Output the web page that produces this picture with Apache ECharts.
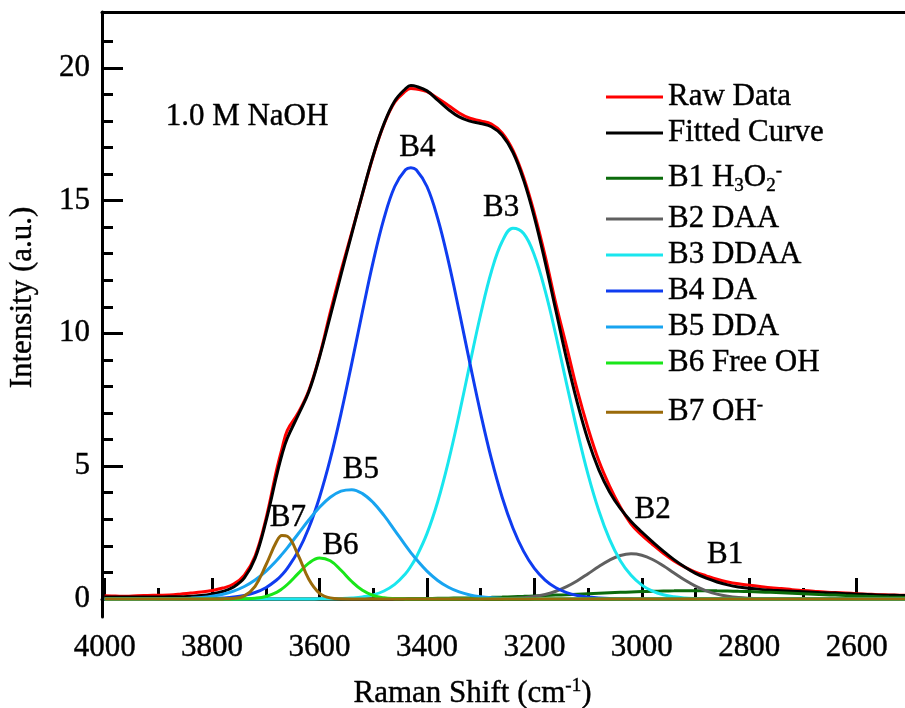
<!DOCTYPE html>
<html>
<head>
<meta charset="utf-8">
<script src="https://cdn.jsdelivr.net/npm/echarts@6/dist/echarts.min.js"></script>
<style>
  html, body { margin: 0; padding: 0; background: #fff; }
  #chart { width: 905px; height: 708px; }
</style>
</head>
<body>
<div id="chart"></div>
<script>
// Raman shift grid (cm-1), read every 20 cm-1 plus the two narrow peak tops
var shift = [
  4000, 3980, 3960, 3940, 3920, 3900, 3880, 3860, 3840, 3820,
  3800, 3780, 3760, 3740, 3720, 3700, 3680, 3670, 3660, 3640, 3620,
  3600, 3580, 3560, 3540, 3520, 3500, 3480, 3460, 3440, 3430, 3420,
  3400, 3380, 3360, 3340, 3320, 3300, 3280, 3260, 3240, 3220,
  3200, 3180, 3160, 3140, 3120, 3100, 3080, 3060, 3040, 3020,
  3000, 2980, 2960, 2940, 2920, 2900, 2880, 2860, 2840, 2820,
  2800, 2780, 2760, 2740, 2720, 2700, 2680, 2660, 2640, 2620,
  2600, 2580, 2560, 2540, 2520, 2500
];

var rawData = [
  0.12, 0.11, 0.10, 0.12, 0.13, 0.14, 0.15, 0.18, 0.22, 0.26,
  0.32, 0.41, 0.56, 0.90, 1.62, 3.00, 4.85, 5.65, 6.35, 7.00, 7.85,
  9.15, 10.80, 12.35, 13.80, 15.25, 16.68, 17.87, 18.70, 19.12, 19.22, 19.20,
  19.10, 18.85, 18.58, 18.30, 18.10, 18.00, 17.88, 17.55, 16.90, 15.88,
  14.52, 12.92, 11.12, 9.50, 7.85, 6.42, 5.20, 4.25, 3.46, 2.82,
  2.40, 2.05, 1.72, 1.43, 1.20, 1.01, 0.87, 0.74, 0.64, 0.57,
  0.52, 0.47, 0.42, 0.39, 0.35, 0.32, 0.29, 0.26, 0.24, 0.22,
  0.20, 0.18, 0.16, 0.15, 0.14, 0.13
];

var fitted = [
  0.07, 0.07, 0.07, 0.07, 0.07, 0.07, 0.08, 0.08, 0.10, 0.13,
  0.19, 0.28, 0.45, 0.79, 1.53, 2.90, 4.64, 5.43, 6.05, 6.91, 7.80,
  9.11, 10.65, 12.21, 13.75, 15.27, 16.70, 17.89, 18.75, 19.21, 19.33, 19.30,
  19.13, 18.78, 18.43, 18.15, 17.99, 17.90, 17.78, 17.46, 16.82, 15.77,
  14.37, 12.69, 10.86, 9.03, 7.38, 5.97, 4.86, 4.03, 3.41, 2.92,
  2.52, 2.15, 1.80, 1.48, 1.20, 0.96, 0.78, 0.64, 0.53, 0.45,
  0.40, 0.36, 0.33, 0.31, 0.29, 0.27, 0.25, 0.23, 0.22, 0.20,
  0.18, 0.17, 0.15, 0.14, 0.13, 0.12
];

var b1 = [
  0, 0, 0, 0, 0, 0, 0, 0, 0, 0,
  0, 0, 0, 0, 0, 0, 0, 0, 0, 0, 0,
  0.001, 0.002, 0.002, 0.003, 0.004, 0.005, 0.007, 0.009, 0.011, 0.013, 0.014,
  0.018, 0.023, 0.028, 0.035, 0.042, 0.051, 0.060, 0.071, 0.084, 0.097,
  0.112, 0.127, 0.144, 0.161, 0.179, 0.197, 0.215, 0.232, 0.248, 0.263,
  0.277, 0.288, 0.298, 0.304, 0.309, 0.310, 0.309, 0.304, 0.298, 0.288,
  0.277, 0.263, 0.248, 0.232, 0.215, 0.197, 0.179, 0.161, 0.144, 0.127,
  0.112, 0.097, 0.084, 0.071, 0.060, 0.051
];

var b2 = [
  0, 0, 0, 0, 0, 0, 0, 0, 0, 0,
  0, 0, 0, 0, 0, 0, 0, 0, 0, 0, 0,
  0, 0, 0, 0, 0, 0, 0, 0, 0, 0, 0,
  0, 0, 0, 0, 0, 0.002, 0.004, 0.010, 0.022, 0.047,
  0.092, 0.170, 0.290, 0.463, 0.686, 0.949, 1.221, 1.464, 1.635, 1.700,
  1.646, 1.485, 1.248, 0.976, 0.711, 0.483, 0.305, 0.180, 0.099, 0.050,
  0.024, 0.011, 0.004, 0.002, 0, 0, 0, 0, 0, 0,
  0, 0, 0, 0, 0, 0
];

var b3 = [
  0, 0, 0, 0, 0, 0, 0, 0, 0, 0,
  0, 0, 0, 0, 0, 0, 0, 0, 0, 0, 0,
  0.003, 0.007, 0.016, 0.036, 0.076, 0.155, 0.299, 0.547, 0.951, 1.23, 1.570,
  2.46, 3.66, 5.18, 6.95, 8.86, 10.72, 12.33, 13.46, 13.96, 13.76,
  12.94, 11.61, 9.93, 8.10, 6.31, 4.68, 3.32, 2.24, 1.44, 0.888,
  0.521, 0.291, 0.155, 0.079, 0.038, 0.018, 0.008, 0.003, 0, 0,
  0, 0, 0, 0, 0, 0, 0, 0, 0, 0,
  0, 0, 0, 0, 0, 0
];

var b4 = [
  0, 0, 0, 0, 0, 0, 0, 0, 0.004, 0.008,
  0.017, 0.036, 0.070, 0.133, 0.242, 0.424, 0.713, 0.911, 1.153, 1.791, 2.67,
  3.83, 5.27, 6.98, 8.87, 10.83, 12.71, 14.33, 15.53, 16.16, 16.24, 16.16,
  15.53, 14.33, 12.71, 10.83, 8.87, 6.98, 5.27, 3.83, 2.67, 1.79,
  1.15, 0.71, 0.42, 0.24, 0.13, 0.07, 0.04, 0.02, 0.01, 0.004,
  0, 0, 0, 0, 0, 0, 0, 0, 0, 0,
  0, 0, 0, 0, 0, 0, 0, 0, 0, 0,
  0, 0, 0, 0, 0, 0
];

var b5 = [
  0, 0, 0, 0.001, 0.002, 0.003, 0.007, 0.014, 0.029, 0.055,
  0.101, 0.176, 0.294, 0.468, 0.714, 1.040, 1.447, 1.678, 1.924, 2.446, 2.971,
  3.450, 3.829, 4.061, 4.116, 3.966, 3.626, 3.144, 2.585, 2.016, 1.746, 1.492,
  1.047, 0.697, 0.440, 0.264, 0.150, 0.081, 0.041, 0.020, 0.009, 0.004,
  0.002, 0, 0, 0, 0, 0, 0, 0, 0, 0,
  0, 0, 0, 0, 0, 0, 0, 0, 0, 0,
  0, 0, 0, 0, 0, 0, 0, 0, 0, 0,
  0, 0, 0, 0, 0, 0
];

var b6 = [
  0, 0, 0, 0, 0, 0, 0, 0, 0, 0,
  0, 0, 0.001, 0.007, 0.028, 0.094, 0.251, 0.379, 0.543, 0.951, 1.348,
  1.546, 1.436, 1.080, 0.657, 0.324, 0.129, 0.042, 0.011, 0.002, 0.001, 0,
  0, 0, 0, 0, 0, 0, 0, 0, 0, 0,
  0, 0, 0, 0, 0, 0, 0, 0, 0, 0,
  0, 0, 0, 0, 0, 0, 0, 0, 0, 0,
  0, 0, 0, 0, 0, 0, 0, 0, 0, 0,
  0, 0, 0, 0, 0, 0
];

var b7 = [
  0, 0, 0, 0, 0, 0, 0, 0, 0, 0,
  0, 0.002, 0.018, 0.115, 0.477, 1.268, 2.161, 2.389, 2.362, 1.656, 0.744,
  0.214, 0.040, 0.005, 0, 0, 0, 0, 0, 0, 0, 0,
  0, 0, 0, 0, 0, 0, 0, 0, 0, 0,
  0, 0, 0, 0, 0, 0, 0, 0, 0, 0,
  0, 0, 0, 0, 0, 0, 0, 0, 0, 0,
  0, 0, 0, 0, 0, 0, 0, 0, 0, 0,
  0, 0, 0, 0, 0, 0
];

// tick labels
var xMajor = [4000, 3800, 3600, 3400, 3200, 3000, 2800, 2600];
var xMinor = [3900, 3700, 3500, 3300, 3100, 2900, 2700];
var yMajor = [0, 5, 10, 15, 20];
var yMinor = [1, 2, 3, 4, 6, 7, 8, 9, 11, 12, 13, 14, 16, 17, 18, 19, 21];

// in-plot annotations (data coordinates of text centre)
var noteText = ['1.0 M NaOH', 'B4', 'B3', 'B5', 'B7', 'B6', 'B2', 'B1'];
var noteShift = [3735, 3418, 3262, 3523, 3659, 3561, 2980, 2845];
var noteInt = [18.16, 17.0, 14.72, 4.85, 3.06, 1.99, 3.36, 1.65];

var seriesNames = ['Raw Data', 'Fitted Curve', 'B1', 'B2', 'B3', 'B4', 'B5', 'B6', 'B7'];
var legendText = ['Raw Data', 'Fitted Curve', 'B1 H{sub|3}O{sub|2}{sup|-}', 'B2 DAA', 'B3 DDAA',
  'B4 DA', 'B5 DDA', 'B6 Free OH', 'B7 OH{sup|-}'];
var seriesValues = [rawData, fitted, b1, b2, b3, b4, b5, b6, b7];
var colors = ['#ff0000', '#000000', '#0b6b0b', '#606060', '#19e6ee', '#0f3cf0', '#18a4f0', '#19e619', '#9a6a0a'];
var legendCenters = [97, 133, 178, 219, 255, 291, 327, 363, 412];

var FONT = 'Liberation Serif';
// thin outline of the glyphs so the serif text reads as dark as the original
var INK = { color: '#000', textBorderColor: '#000', textBorderWidth: 0.4 };

var chart = echarts.init(document.getElementById('chart'));

var series = seriesNames.map(function (name, i) {
  return {
    name: name,
    type: 'line',
    xAxisIndex: 0,
    yAxisIndex: 0,
    smooth: 0.4,
    symbol: 'none',
    showSymbol: false,
    lineStyle: { color: colors[i], width: 3 },
    itemStyle: { color: colors[i] },
    data: shift.map(function (x, k) { return [x, seriesValues[i][k]]; })
  };
});

function ink(style) {
  return Object.assign({}, INK, style);
}

var richSubSup = {
  sub: ink({ fontSize: 19, lineHeight: 12, verticalAlign: 'bottom', fontFamily: FONT }),
  sup: ink({ fontSize: 19, lineHeight: 12, verticalAlign: 'top', fontFamily: FONT })
};

var legends = seriesNames.map(function (name, i) {
  return {
    data: [name],
    left: 606,
    top: legendCenters[i] - 17,
    padding: 0,
    icon: 'rect',
    itemWidth: 57,
    itemHeight: 3,
    selectedMode: false,
    formatter: function () { return legendText[i]; },
    textStyle: ink({ fontSize: 31, lineHeight: 34, fontFamily: FONT, rich: richSubSup })
  };
});

var axisBlack = { color: '#000', width: 3 };
var serifLabel = function (v) { return '{t|' + v + '}'; };
var tickRich = { t: ink({ fontSize: 31, lineHeight: 34, fontFamily: FONT }) };

var option = {
  animation: false,
  backgroundColor: '#fff',
  grid: [
    { left: 102, right: 0, top: 12, bottom: 91, containLabel: false, outerBoundsMode: 'none' },
    { left: 102, right: 0, top: 12, bottom: 91, containLabel: false, outerBoundsMode: 'none' }
  ],
  legend: legends,
  xAxis: [
    {
      gridIndex: 0,
      type: 'value',
      inverse: true,
      min: 2510,
      max: 4005,
      position: 'bottom',
      axisLine: { lineStyle: axisBlack },
      axisTick: { inside: true, length: 21, lineStyle: axisBlack, customValues: xMajor },
      axisLabel: { customValues: xMajor, formatter: serifLabel, rich: tickRich, margin: 14, fontSize: 31, fontFamily: FONT, color: '#000' },
      splitLine: { show: false },
      name: 'Raman Shift (cm{sup|-1})',
      nameLocation: 'middle',
      nameGap: 60,
      nameTextStyle: ink({
        fontSize: 31, lineHeight: 34, fontFamily: FONT, padding: [0, 62, 0, 0],
        rich: { sup: ink({ fontSize: 19, lineHeight: 12, verticalAlign: 'top', fontFamily: FONT, padding: [0, 0, 30, 0] }) }
      })
    },
    {
      gridIndex: 1,
      type: 'value',
      inverse: true,
      min: 2510,
      max: 4005,
      position: 'bottom',
      axisLine: { show: false },
      axisTick: { inside: true, length: 11, lineStyle: axisBlack, customValues: xMinor },
      axisLabel: { show: false },
      splitLine: { show: false }
    },
    {
      gridIndex: 1,
      type: 'value',
      inverse: true,
      min: 2510,
      max: 4005,
      position: 'top',
      axisLine: { lineStyle: axisBlack },
      axisTick: { show: false },
      axisLabel: { show: false },
      splitLine: { show: false }
    }
  ],
  yAxis: [
    {
      gridIndex: 0,
      type: 'value',
      min: -0.68,
      max: 22.1,
      position: 'left',
      axisLine: { lineStyle: axisBlack },
      axisTick: { inside: true, length: 21, lineStyle: axisBlack, customValues: yMajor },
      axisLabel: { customValues: yMajor, formatter: serifLabel, rich: tickRich, margin: 12, fontSize: 31, fontFamily: FONT, color: '#000' },
      splitLine: { show: false },
      name: 'Intensity (a.u.)',
      nameLocation: 'middle',
      nameGap: 62,
      nameTextStyle: ink({ fontSize: 31, lineHeight: 34, fontFamily: FONT, padding: [0, 0, 0, 34] })
    },
    {
      gridIndex: 1,
      type: 'value',
      min: -0.68,
      max: 22.1,
      position: 'left',
      axisLine: { show: false },
      axisTick: { inside: true, length: 11, lineStyle: axisBlack, customValues: yMinor },
      axisLabel: { show: false },
      splitLine: { show: false }
    }
  ],
  series: series
};

chart.setOption(option);

// place annotation texts through the axis scales
chart.setOption({
  graphic: noteText.map(function (t, i) {
    var p = chart.convertToPixel({ xAxisIndex: 0, yAxisIndex: 0 }, [noteShift[i], noteInt[i]]);
    return {
      type: 'text',
      x: p[0],
      y: p[1],
      silent: true,
      style: {
        text: t,
        fill: '#000',
        stroke: '#000',
        lineWidth: 0.4,
        font: '31px "Liberation Serif"',
        align: 'center',
        verticalAlign: 'middle'
      }
    };
  })
});
</script>
</body>
</html>
